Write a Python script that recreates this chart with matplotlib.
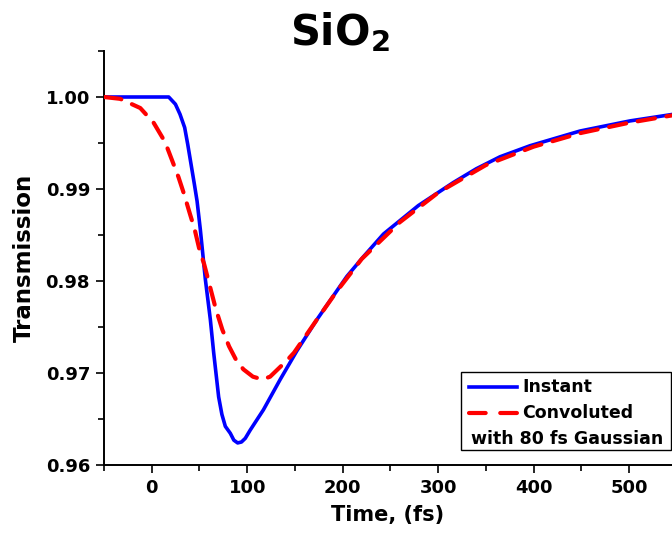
import matplotlib
matplotlib.use("Agg")
import matplotlib.pyplot as plt
from matplotlib.patches import Rectangle
from matplotlib.lines import Line2D
from matplotlib.ticker import MultipleLocator

plt.rcParams['font.family'] = ['DejaVu Sans']
plt.rcParams['mathtext.fontset'] = 'dejavusans'

# ---- data ----
t_instant = [-50, 0, 17.8, 24.8, 29.6, 34.5, 37.7, 41.2, 44.7, 47.5, 50.9, 56.2, 61.4,
             64.9, 70.1, 73.5, 77.1, 82.3, 86, 90, 94, 98, 103.2, 117, 134.6, 152, 173,
             204.4, 221.4, 242.7, 279.3, 315.9, 340, 364.8, 396.2, 448.6, 500.9, 545]
T_instant = [1.0, 1.0, 1.0, 0.99922, 0.99813, 0.99668, 0.99486, 0.99268, 0.9905,
             0.98868, 0.9856, 0.98015, 0.9758, 0.9722, 0.9674, 0.9655, 0.9642, 0.96345,
             0.9627, 0.9624, 0.9625, 0.9629, 0.9638, 0.9660, 0.9693, 0.9724, 0.9758,
             0.9805, 0.9826, 0.9851, 0.9882, 0.9907, 0.9922, 0.9935, 0.9947, 0.9963,
             0.9974, 0.9981]

t_conv = [-50, -33, -12, 2, 14, 21, 28, 34, 40, 45, 50, 55, 61, 67, 74, 81, 88, 96,
          106, 116, 124, 131, 141, 149, 161, 173, 194, 220, 260, 300, 350, 400, 450,
          500, 545]
T_conv = [1.0, 0.9998, 0.9988, 0.9972, 0.9951, 0.9932, 0.9913, 0.9894, 0.9873, 0.9856,
          0.9834, 0.9818, 0.9794, 0.9770, 0.9747, 0.9729, 0.9715, 0.9704, 0.9696,
          0.9693, 0.9696, 0.9703, 0.9713, 0.9722, 0.9740, 0.9758, 0.9789, 0.9824,
          0.9864, 0.9896, 0.9926, 0.9946, 0.9961, 0.9972, 0.9980]

series_labels = ["Instant", "Convoluted", "with 80 fs Gaussian"]
x_ticks = [0, 100, 200, 300, 400, 500]
y_ticks = [0.96, 0.97, 0.98, 0.99, 1.00]
y_ticklabels = ["0.96", "0.97", "0.98", "0.99", "1.00"]

# ---- figure ----
W, H = 672, 533
fig = plt.figure(figsize=(W / 100, H / 100), dpi=100)
ax = fig.add_axes([104 / W, (H - 465) / H, (W - 104) / W, (465 - 51) / H])

blue = '#0000ff'
red = '#ff0000'
ax.plot(t_instant, T_instant, color=blue, lw=2.6, solid_capstyle='round',
        solid_joinstyle='round', zorder=3)
ax.plot(t_conv, T_conv, color=red, lw=3.0, dashes=(4.2, 2.8), dash_capstyle='round',
        zorder=4)

ax.set_xlim(-50, 545)
ax.set_ylim(0.96, 1.005)

for s in ['top', 'right']:
    ax.spines[s].set_visible(False)
for s in ['left', 'bottom']:
    ax.spines[s].set_linewidth(1.4)

ax.set_xticks(x_ticks)
ax.set_yticks(y_ticks)
ax.set_yticklabels(y_ticklabels)
ax.xaxis.set_minor_locator(MultipleLocator(50))
ax.yaxis.set_minor_locator(MultipleLocator(0.005))
ax.tick_params(which='major', direction='out', length=6, width=1.2, labelsize=13, pad=4)
ax.tick_params(which='minor', direction='out', length=4, width=1.2)
for lab in ax.get_xticklabels() + ax.get_yticklabels():
    lab.set_fontweight('bold')

ax.set_xlabel("Time, (fs)", fontsize=15, fontweight='bold', labelpad=6)
ax.set_ylabel("Transmission", fontsize=16.5, fontweight='bold', labelpad=7)

fig.text(340 / W, (H - 45) / H, r"SiO$_\mathbf{2}$", fontsize=30, fontweight='bold',
         ha='center', va='baseline')

# ---- legend box ----
def axx(px):
    return (px - 104) / (W - 104)

def axy(py):
    return (465 - py) / (465 - 51)

ax.add_patch(Rectangle((axx(461), axy(450)), axx(671) - axx(461), axy(372) - axy(450),
                       transform=ax.transAxes, facecolor='white', edgecolor='black',
                       lw=1.0, zorder=10, clip_on=False))
ax.add_line(Line2D([axx(469), axx(517)], [axy(386.5)] * 2, transform=ax.transAxes,
                   color=blue, lw=2.6, zorder=11, clip_on=False))
ax.add_line(Line2D([axx(469), axx(517)], [axy(412.5)] * 2, transform=ax.transAxes,
                   color=red, lw=3.0, dashes=(4.0, 3.5), dash_capstyle='round',
                   zorder=11, clip_on=False))
ax.text(axx(522), axy(386.5), series_labels[0], transform=ax.transAxes, fontsize=12.5,
        fontweight='bold', va='center', ha='left', zorder=12)
ax.text(axx(522), axy(412.5), series_labels[1], transform=ax.transAxes, fontsize=12.5,
        fontweight='bold', va='center', ha='left', zorder=12)
ax.text(axx(471), axy(438.5), series_labels[2], transform=ax.transAxes, fontsize=12.5,
        fontweight='bold', va='center', ha='left', zorder=12)

fig.savefig("out.png", dpi=100)
